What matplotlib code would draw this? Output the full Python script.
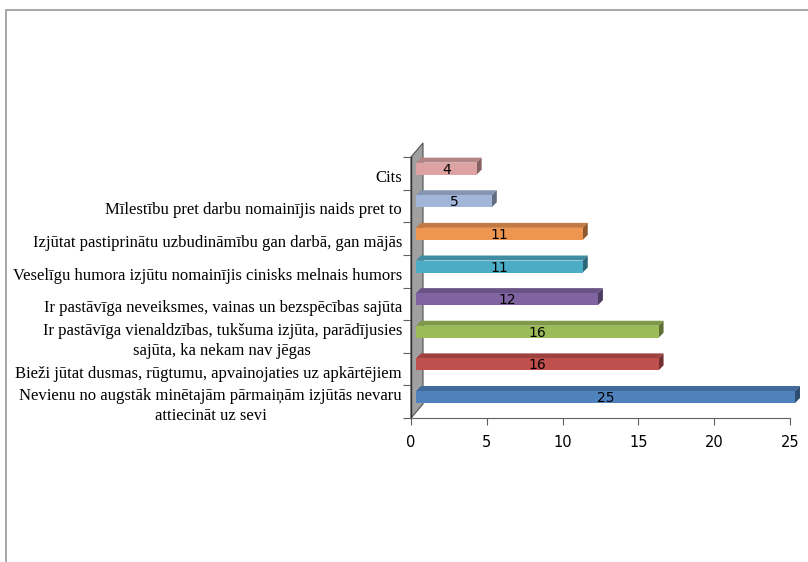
import matplotlib
matplotlib.use("Agg")
import matplotlib.pyplot as plt
from matplotlib.patches import Polygon, Rectangle

# Atbildes (no apakšas uz augšu)
categories = [
    "Nevienu no augstāk minētajām pārmaiņām izjūtās nevaru\nattiecināt uz sevi",
    "Bieži jūtat dusmas, rūgtumu, apvainojaties uz apkārtējiem",
    "Ir pastāvīga vienaldzības, tukšuma izjūta, parādījusies\nsajūta, ka nekam nav jēgas",
    "Ir pastāvīga neveiksmes, vainas un bezspēcības sajūta",
    "Veselīgu humora izjūtu nomainījis cinisks melnais humors",
    "Izjūtat pastiprinātu uzbudināmību gan darbā, gan mājās",
    "Mīlestību pret darbu nomainījis naids pret to",
    "Cits",
]
values = [25, 16, 16, 12, 11, 11, 5, 4]
colors = ["#4F81BD", "#C0504D", "#9BBB59", "#8064A2",
          "#4BACC6", "#EE9550", "#A2B6DA", "#DDA2A2"]
xticks = [0, 5, 10, 15, 20, 25]

W, H = 808, 562
fig = plt.figure(figsize=(W / 100, H / 100), dpi=100)

# pelēkais rāmis ap diagrammu
fig.add_artist(Rectangle((6 / W, -0.1), 1.2, (H - 10) / H + 0.1,
                         transform=fig.transFigure, fill=False,
                         edgecolor="#A0A0A0", linewidth=1.3))

x0, x1 = 411, 790
y0, y1 = 418, 157
ax = fig.add_axes([x0 / W, (H - y0) / H, (x1 - x0) / W, (y0 - y1) / H])
ax.set_xlim(0, 25)
ax.set_ylim(0, 8)
for s in ["top", "right", "left"]:
    ax.spines[s].set_visible(False)
ax.spines["bottom"].set_color("#606060")

pxx = (x1 - x0) / 25.0
pxy = (y0 - y1) / 8.0

# sānu siena
wd_x, wd_y = 12 / pxx, 14 / pxy
ax.add_patch(Polygon([(0, 0), (wd_x, wd_y), (wd_x, 8 + wd_y), (0, 8)],
                     closed=True, facecolor="#A0A0A0", edgecolor="#505050",
                     linewidth=0.8, clip_on=False, zorder=1))
ax.plot([0, 0], [0, 8], color="#303030", lw=1.0, clip_on=False, zorder=2)

ax.set_xticks(xticks)
ax.set_xticklabels([str(t) for t in xticks], fontsize=10.5, family="DejaVu Sans")
ax.set_yticks(range(9))
ax.set_yticklabels([])
ax.tick_params(axis="x", direction="out", length=5, color="#606060", pad=7)
ax.tick_params(axis="y", direction="out", length=6, color="#606060")

# 3D stabiņi
off_x = 5 / pxx
dx, dy = 5 / pxx, 5 / pxy
for i, (v, c) in enumerate(zip(values, colors)):
    yb = i + 15 / pxy
    yt = i + 27 / pxy
    xl = off_x
    xr = off_x + v
    rgb = matplotlib.colors.to_rgb(c)
    top_c = tuple(ch * 0.82 for ch in rgb)
    side_c = tuple(ch * 0.6 for ch in rgb)
    ax.add_patch(Polygon([(xl, yt), (xl + dx, yt + dy), (xr + dx, yt + dy), (xr, yt)],
                         closed=True, facecolor=top_c, edgecolor="none",
                         clip_on=False, zorder=3))
    ax.add_patch(Polygon([(xr, yb), (xr + dx, yb + dy), (xr + dx, yt + dy), (xr, yt)],
                         closed=True, facecolor=side_c, edgecolor="none",
                         clip_on=False, zorder=3))
    ax.add_patch(Rectangle((xl, yb), v, yt - yb, facecolor=c, edgecolor="none",
                           clip_on=False, zorder=4))
    ax.text(xl + v / 2, (yb + yt) / 2 - 1 / pxy, str(v), ha="center", va="center",
            fontsize=10, family="DejaVu Sans", color="black", zorder=5)

# kategoriju nosaukumi
for i, lab in enumerate(categories):
    ax.text(-9 / pxx, i + 0.5 - 4.5 / pxy, lab, ha="right", va="center",
            multialignment="center", fontsize=12, family="Liberation Serif",
            linespacing=1.3, color="black")

fig.savefig("out.png", dpi=100)
